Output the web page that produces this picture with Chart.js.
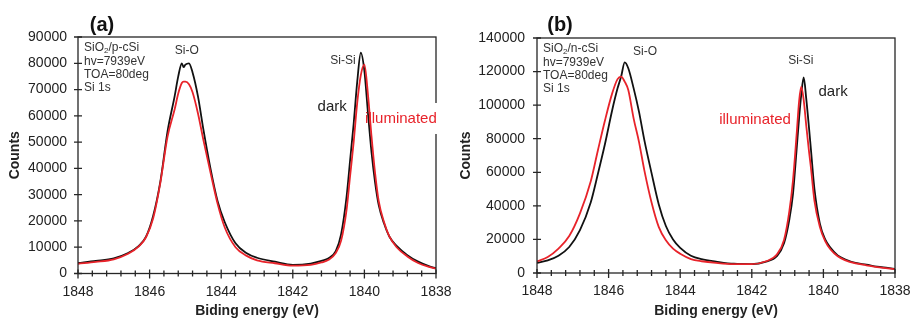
<!DOCTYPE html>
<html>
<head>
<meta charset="utf-8">
<script src="https://cdn.jsdelivr.net/npm/chart.js@4"></script>
<style>
  body { margin: 0; background: #fff; }
  #wrap { position: relative; width: 910px; height: 320px; }
  canvas { position: absolute; top: 0; }
  #graficoA { left: 0; }
  #graficoB { left: 455px; }
</style>
</head>
<body>
<div id="wrap">
  <canvas id="graficoA" width="455" height="320"></canvas>
  <canvas id="graficoB" width="455" height="320"></canvas>
</div>
<script>
// Panel (a) SiO2/p-cSi - binding energy (eV) and counts
const energyA = [1848, 1847.5, 1847, 1846.6, 1846.3, 1846.1, 1845.9, 1845.7, 1845.5, 1845.3,
  1845.2, 1845.1, 1845.05, 1845.0, 1844.9, 1844.8, 1844.65, 1844.5, 1844.3, 1844.1,
  1843.9, 1843.6, 1843.3, 1843, 1842.5, 1842, 1841.5, 1841.2, 1841.0, 1840.8,
  1840.65, 1840.5, 1840.4, 1840.3, 1840.2, 1840.1, 1840.0, 1839.9, 1839.8, 1839.7,
  1839.6, 1839.45, 1839.3, 1839.1, 1838.8, 1838.5, 1838.2, 1838];
const darkA = [4000, 4800, 5800, 7800, 10500, 14000, 22000, 35000, 54000, 67500,
  75000, 80000, 78500, 79500, 80000, 76500, 67500, 55000, 40000, 27500,
  19500, 11500, 7800, 6000, 4500, 3300, 3800, 4800, 5800, 8500,
  15000, 29000, 43000, 57000, 73000, 84000, 77000, 61000, 46000, 34500,
  26000, 19000, 14000, 10500, 7000, 4500, 2800, 2000];
const illumA = [3700, 4400, 5400, 7500, 10300, 13800, 21000, 34500, 52000, 62500,
  68500, 72500, 73000, 73000, 72000, 69000, 61000, 51000, 38500, 26500,
  17500, 10000, 6800, 5000, 3900, 3000, 3300, 4200, 5200, 7800,
  12500, 24000, 37000, 50000, 65000, 75500, 79500, 68000, 52000, 38000,
  27500, 19500, 14000, 10000, 6500, 4000, 2500, 1800];

// Panel (b) SiO2/n-cSi
const energyB = [1848, 1847.7, 1847.4, 1847.1, 1846.8, 1846.5, 1846.3, 1846.1, 1845.9, 1845.75,
  1845.65, 1845.55, 1845.45, 1845.3, 1845.15, 1845.0, 1844.8, 1844.6, 1844.4, 1844.2,
  1844.0, 1843.7, 1843.4, 1843.0, 1842.5, 1842.0, 1841.6, 1841.3, 1841.1, 1840.95,
  1840.85, 1840.75, 1840.68, 1840.62, 1840.55, 1840.48, 1840.4, 1840.35, 1840.25, 1840.1,
  1839.95, 1839.8, 1839.6, 1839.4, 1839.1, 1838.8, 1838.5, 1838.2, 1838];
const darkB = [6000, 7500, 10300, 15500, 25500, 42000, 59000, 77000, 97000, 110000,
  117000, 125500, 122000, 110000, 96000, 79000, 59500, 41000, 28000, 20000,
  15000, 10300, 8200, 6800, 5500, 5300, 6800, 10000, 17700, 32000,
  47000, 73000, 92000, 106000, 116500, 104000, 86000, 74000, 50000, 29600,
  20000, 15000, 10500, 8200, 6000, 5000, 3800, 3000, 2400];
const illumB = [6900, 9500, 14500, 22000, 35500, 54500, 73000, 91000, 107000, 115500,
  117000, 114000, 109000, 92000, 78000, 61000, 42000, 27500, 19500, 14500,
  11500, 8300, 7000, 6000, 5300, 5300, 7000, 11000, 19700, 37000,
  55000, 82000, 102000, 111000, 103000, 88000, 72000, 63000, 43000, 27600,
  19000, 14000, 10000, 7700, 5700, 4600, 3500, 2800, 2200];

// Axes
const xMin = 1838, xMax = 1848, xStep = 2, xMinorStep = 0.4;
const yMaxA = 90000, yStepA = 10000;
const yMaxB = 140000, yStepB = 20000;

const FONTE = "'Liberation Sans', Arial, sans-serif";
const PRETO = "#111111";
const VERMELHO = "#e8232a";

function pontos(energias, valores) {
    return energias.map((e, i) => ({ x: e, y: valores[i] }));
}

function texto(ctx, t, x, y, tamanho, cor, align, negrito) {
    ctx.font = (negrito ? "bold " : "") + tamanho + "px " + FONTE;
    ctx.fillStyle = cor;
    ctx.textAlign = align || "left";
    ctx.textBaseline = "middle";
    ctx.fillText(t, x, y);
}

// desenha moldura, marcas cruzando os eixos, textos
const decor = {
    id: "decor",
    afterDraw(chart, args, o) {
        const { ctx, chartArea: a, scales: { x, y } } = chart;
        ctx.save();
        ctx.strokeStyle = "#262626";
        ctx.lineWidth = 1.3;
        ctx.strokeRect(a.left, a.top, a.right - a.left, a.bottom - a.top);

        ctx.beginPath();
        y.ticks.forEach(t => {
            const py = y.getPixelForValue(t.value);
            ctx.moveTo(a.left - 4, py);
            ctx.lineTo(a.left + 4, py);
        });
        const n = Math.round((xMax - xMin) / xMinorStep);
        for (let i = 0; i <= n; i++) {
            const v = xMin + i * xMinorStep;
            const px = x.getPixelForValue(v);
            const major = Math.abs(v / xStep - Math.round(v / xStep)) < 1e-6;
            ctx.moveTo(px, a.bottom - (major ? 4 : 3));
            ctx.lineTo(px, a.bottom + (major ? 5 : 3));
        }
        ctx.stroke();

        // painel (a)/(b)
        texto(ctx, o.painel, a.left + o.painelDx, 25, 20, "#111", "center", true);

        // bloco de informação
        const lx = a.left + 6;
        ctx.font = "12px " + FONTE;
        let cx = lx;
        texto(ctx, "SiO", cx, a.top + 11, 12, "#333");
        cx += ctx.measureText("SiO").width;
        texto(ctx, "2", cx, a.top + 14, 8, "#333");
        ctx.font = "8px " + FONTE;
        cx += ctx.measureText("2").width;
        texto(ctx, o.amostra, cx, a.top + 11, 12, "#333");
        texto(ctx, "hv=7939eV", lx, a.top + 25, 12, "#333");
        texto(ctx, "TOA=80deg", lx, a.top + 38, 12, "#333");
        texto(ctx, "Si 1s", lx, a.top + 51, 12, "#333");

        o.rotulos.forEach(r => {
            const px = x.getPixelForValue(r.e);
            const py = y.getPixelForValue(r.c);
            ctx.font = r.tam + "px " + FONTE;
            const w = ctx.measureText(r.t).width;
            if (r.fundo) {
                ctx.fillStyle = "#fff";
                ctx.fillRect(px - w / 2 + 10, py - 16, w, 31);
            }
            texto(ctx, r.t, px, py, r.tam, r.cor, "center");
        });
        ctx.restore();
    }
};

function criarGrafico(id, energias, escuro, iluminado, yMax, yStep, geo, extras) {
    const ctx = document.getElementById(id).getContext("2d");
    return new Chart(ctx, {
        type: "scatter",
        data: {
            datasets: [
                { label: "dark", data: pontos(energias, escuro), borderColor: PRETO, order: 1 },
                { label: "illuminated", data: pontos(energias, iluminado), borderColor: VERMELHO, order: 0 }
            ]
        },
        options: {
            responsive: false,
            animation: false,
            showLine: true,
            elements: {
                point: { radius: 0 },
                line: { borderWidth: 1.8, cubicInterpolationMode: "monotone" }
            },
            layout: { padding: { left: 0, right: geo.right, top: geo.top, bottom: 0 } },
            plugins: {
                legend: { display: false },
                tooltip: { enabled: false },
                decor: extras
            },
            scales: {
                x: {
                    type: "linear",
                    min: xMin,
                    max: xMax,
                    reverse: true,
                    afterFit: s => {
                        s.height = geo.xh;
                        s.paddingLeft = 0;
                        s.paddingRight = 0;
                    },
                    grid: { display: false, drawTicks: false },
                    border: { display: false },
                    ticks: {
                        stepSize: xStep,
                        padding: 10,
                        color: "#222",
                        font: { family: FONTE, size: 14 },
                        callback: v => v.toString()
                    },
                    title: {
                        display: true,
                        text: "Biding energy (eV)",
                        color: "#222",
                        font: { family: FONTE, size: 14, weight: "bold" },
                        padding: { top: 0, bottom: 0 }
                    }
                },
                y: {
                    min: 0,
                    max: yMax,
                    afterFit: s => {
                        s.width = geo.yw;
                        s.paddingTop = 0;
                        s.paddingBottom = 0;
                    },
                    grid: { display: false, drawTicks: false },
                    border: { display: false },
                    ticks: {
                        stepSize: yStep,
                        padding: geo.ypad,
                        color: "#222",
                        font: { family: FONTE, size: 14 },
                        callback: v => v.toString()
                    },
                    title: {
                        display: true,
                        text: "Counts",
                        color: "#222",
                        font: { family: FONTE, size: 14, weight: "bold" },
                        padding: { top: geo.tpad, bottom: 0 }
                    }
                }
            }
        },
        plugins: [decor]
    });
}

criarGrafico("graficoA", energyA, darkA, illumA, yMaxA, yStepA,
    { right: 19, top: 37, xh: 46.5, yw: 78, ypad: 11, tpad: 7 },
    {
        painel: "(a)", painelDx: 24, amostra: "/p-cSi",
        rotulos: [
            { t: "Si-O", e: 1844.96, c: 84700, tam: 12, cor: "#333" },
            { t: "Si-Si", e: 1840.6, c: 80900, tam: 12, cor: "#333" },
            { t: "dark", e: 1840.9, c: 63400, tam: 15, cor: "#222" },
            { t: "illuminated", e: 1838.98, c: 58800, tam: 15, cor: VERMELHO, fundo: true }
        ]
    });

criarGrafico("graficoB", energyB, darkB, illumB, yMaxB, yStepB,
    { right: 15, top: 38, xh: 47, yw: 82, ypad: 12, tpad: 3 },
    {
        painel: "(b)", painelDx: 23, amostra: "/n-cSi",
        rotulos: [
            { t: "Si-O", e: 1844.98, c: 131700, tam: 12, cor: "#333" },
            { t: "Si-Si", e: 1840.63, c: 126300, tam: 12, cor: "#333" },
            { t: "dark", e: 1839.73, c: 107800, tam: 15, cor: "#222" },
            { t: "illuminated", e: 1841.91, c: 91100, tam: 15, cor: VERMELHO }
        ]
    });
</script>
</body>
</html>
